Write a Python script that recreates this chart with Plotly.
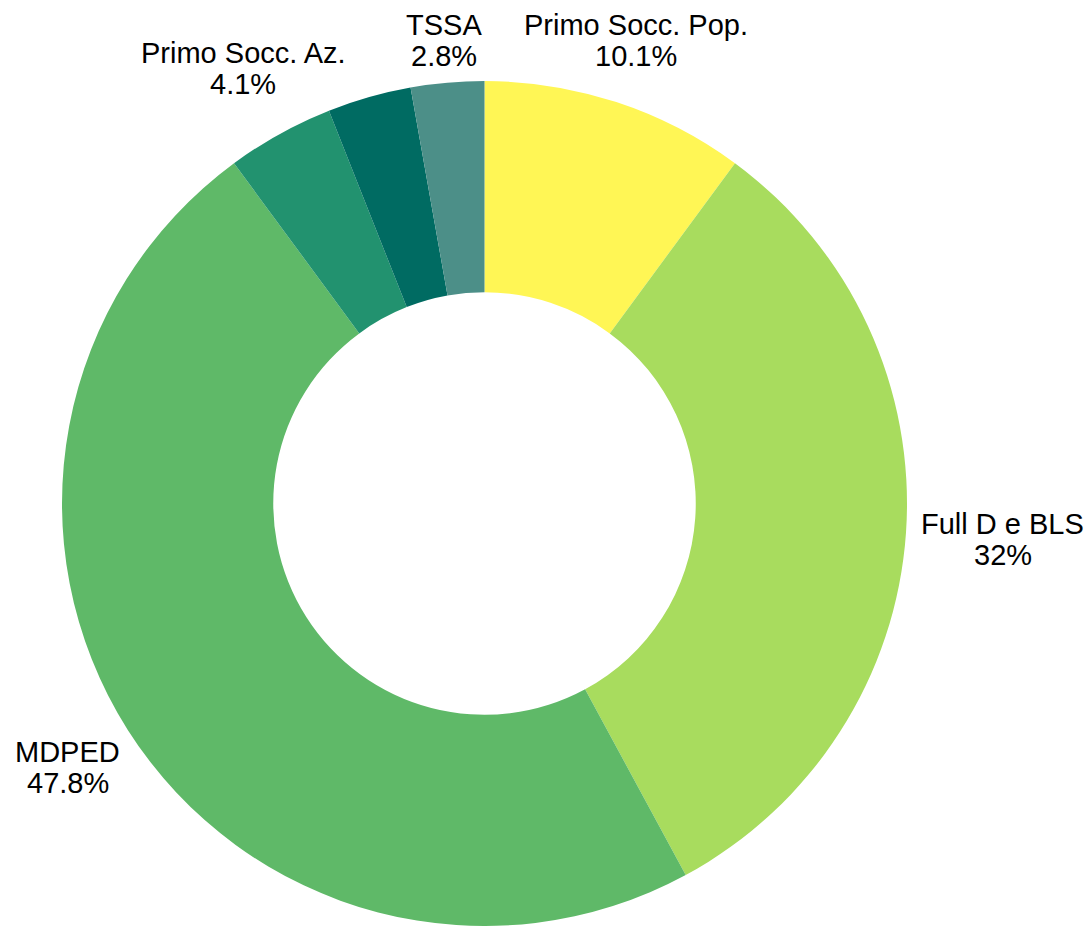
import math
import plotly.graph_objects as go

labels = ["Primo Socc. Pop.", "Full D e BLS", "MDPED", "Primo Socc. Az.", "Altro", "TSSA"]
values = [10.1, 32.0, 47.8, 4.1, 3.2, 2.8]
colors = ["#FFF655", "#A8DC5E", "#5FB968", "#22926F", "#006B62", "#4C8F88"]
show_label = [True, True, True, True, False, True]

W, H = 1091, 926
cx, cy, r = 484.5, 503.5, 422.5
FS = 29
LINE_GAP = 31
FONT = "Liberation Sans, Arial, sans-serif"

# Arial / Liberation Sans advance widths (1/1000 em) for estimating label size
CW = {" ": 278, ".": 278, "%": 889, "P": 667, "r": 333, "i": 222, "m": 833, "o": 556,
      "S": 667, "c": 500, "p": 556, "F": 611, "u": 556, "l": 222, "D": 722, "e": 556,
      "B": 667, "L": 556, "M": 833, "E": 667, "A": 667, "T": 611, "z": 500}


def text_w(s):
    return sum(CW.get(ch, 556) for ch in s) / 1000 * FS


def fmt_pct(p):
    return f"{p:.3g}%"


fig = go.Figure(go.Pie(
    labels=labels,
    values=values,
    marker=dict(colors=colors, line=dict(width=0)),
    hole=0.5,
    sort=False,
    direction="clockwise",
    rotation=0,
    textinfo="none",
    hoverinfo="label+percent",
    showlegend=False,
    domain=dict(x=[(cx - r) / W, (cx + r) / W], y=[(H - cy - r) / H, (H - cy + r) / H]),
))

total = sum(values)
cum = 0.0
annotations = []
for lab, v, show in zip(labels, values, show_label):
    mid = (cum + v / 2) / total * 2 * math.pi
    cum += v
    if not show:
        continue
    pct = fmt_pct(v / total * 100)
    ux, uy = math.sin(mid), -math.cos(mid)
    hw = max(text_w(lab), text_w(pct)) / 2
    dist = r + 0.7 * hw * abs(ux) + 40
    px, py = cx + dist * ux, cy + dist * uy
    for line, dy in ((lab, -LINE_GAP / 2), (pct, LINE_GAP / 2)):
        annotations.append(dict(
            x=px / W, y=1 - (py + dy) / H, xref="paper", yref="paper",
            text=line, showarrow=False,
            xanchor="center", yanchor="middle", align="center",
            font=dict(family=FONT, size=FS, color="#000000"),
        ))

fig.update_layout(
    width=W, height=H,
    margin=dict(l=0, r=0, t=0, b=0),
    paper_bgcolor="white",
    plot_bgcolor="white",
    annotations=annotations,
)

fig.write_html("out.html", config={"displayModeBar": False},
               post_script="document.body.style.margin='0px';")
